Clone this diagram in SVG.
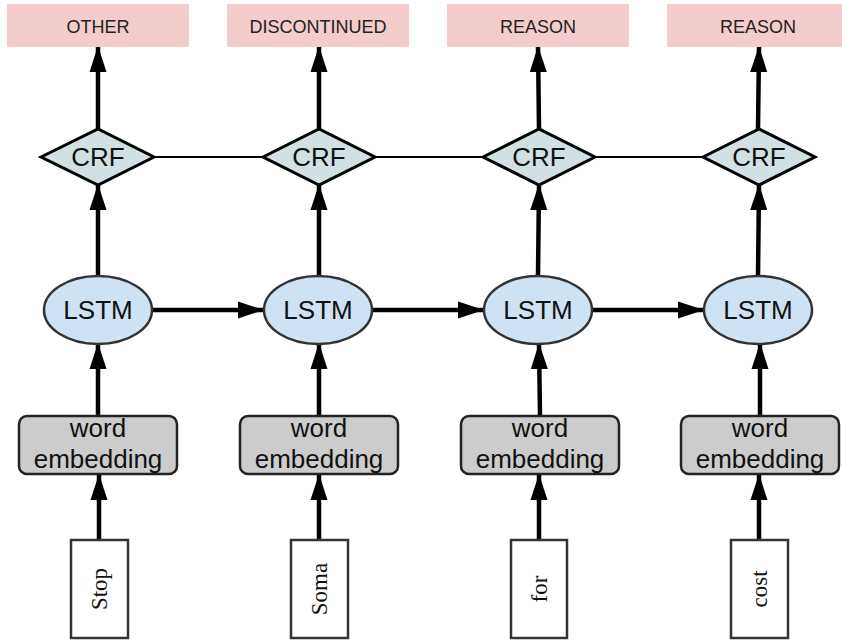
<svg xmlns="http://www.w3.org/2000/svg" width="842" height="640" viewBox="0 0 842 640">
<style>
.lbl{fill:#f4cccc}
.lt{font-family:"Liberation Sans",Arial,sans-serif;font-size:18px;fill:#222;text-anchor:middle}
.crf{fill:#d0e0e3;stroke:#000;stroke-width:3;stroke-linejoin:miter}
.lstm{fill:#cfe2f3;stroke:#333;stroke-width:2.5}
.emb{fill:#cccccc;stroke:#222;stroke-width:2.5}
.word{fill:#fff;stroke:#333;stroke-width:2.5}
.t{font-family:"Liberation Sans",Arial,sans-serif;font-size:26px;fill:#111;text-anchor:middle}
.w{font-family:"Liberation Serif","Times New Roman",serif;font-size:23px;fill:#111;text-anchor:middle}
.a{stroke:#000;stroke-width:4.5;fill:none;marker-end:url(#ah)}
.c{stroke:#000;stroke-width:2;fill:none}
</style>
<defs>
<marker id="ah" markerUnits="userSpaceOnUse" markerWidth="26" markerHeight="18" refX="25" refY="8.5" orient="auto" viewBox="0 0 26 17">
<path d="M0,0 L26,8.5 L0,17 Z" fill="#000"/>
</marker>
</defs>
<g id="connectors">
<line class="c" x1="154" y1="157" x2="263" y2="157"/>
<line class="c" x1="375" y1="157" x2="483" y2="157"/>
<line class="c" x1="595" y1="157" x2="703" y2="157"/>
<line class="a" x1="98" y1="129" x2="98" y2="47"/>
<line class="a" x1="319" y1="129" x2="319" y2="47"/>
<line class="a" x1="539" y1="129" x2="538" y2="47"/>
<line class="a" x1="758" y1="129" x2="759" y2="47"/>
<line class="a" x1="98" y1="276" x2="98" y2="185"/>
<line class="a" x1="319" y1="276" x2="319" y2="185"/>
<line class="a" x1="538" y1="276" x2="539" y2="185"/>
<line class="a" x1="758" y1="276" x2="759" y2="185"/>
<line class="a" x1="152" y1="310" x2="263" y2="310"/>
<line class="a" x1="373" y1="310" x2="483" y2="310"/>
<line class="a" x1="592" y1="310" x2="703" y2="310"/>
<line class="a" x1="98" y1="416" x2="98" y2="344"/>
<line class="a" x1="319" y1="416" x2="319" y2="344"/>
<line class="a" x1="540" y1="416" x2="539" y2="344"/>
<line class="a" x1="760" y1="416" x2="760" y2="344"/>
<line class="a" x1="99" y1="540" x2="99" y2="475"/>
<line class="a" x1="319" y1="540" x2="319" y2="475"/>
<line class="a" x1="539" y1="540" x2="539" y2="475"/>
<line class="a" x1="759" y1="540" x2="759" y2="475"/>
</g>
<g id="label1"><rect class="lbl" x="7" y="4" width="182" height="43"/><text class="lt" x="98" y="33">OTHER</text></g>
<g id="label2"><rect class="lbl" x="227" y="4" width="182" height="43"/><text class="lt" x="318" y="33">DISCONTINUED</text></g>
<g id="label3"><rect class="lbl" x="447" y="4" width="182" height="43"/><text class="lt" x="538" y="33">REASON</text></g>
<g id="label4"><rect class="lbl" x="667" y="4" width="182" height="43"/><text class="lt" x="758" y="33">REASON</text></g>
<g id="crf1"><polygon class="crf" points="41,157 98,129 154,157 98,185"/><text class="t" x="98" y="166">CRF</text></g>
<g id="crf2"><polygon class="crf" points="263,157 319,129 375,157 319,185"/><text class="t" x="319" y="166">CRF</text></g>
<g id="crf3"><polygon class="crf" points="483,157 539,129 595,157 539,185"/><text class="t" x="539" y="166">CRF</text></g>
<g id="crf4"><polygon class="crf" points="703,157 759,129 815,157 759,185"/><text class="t" x="759" y="166">CRF</text></g>
<g id="lstm1"><ellipse class="lstm" cx="98" cy="310" rx="54" ry="34"/><text class="t" x="98" y="319">LSTM</text></g>
<g id="lstm2"><ellipse class="lstm" cx="318" cy="310" rx="54" ry="34"/><text class="t" x="318" y="319">LSTM</text></g>
<g id="lstm3"><ellipse class="lstm" cx="538" cy="310" rx="54" ry="34"/><text class="t" x="538" y="319">LSTM</text></g>
<g id="lstm4"><ellipse class="lstm" cx="758" cy="310" rx="54" ry="34"/><text class="t" x="758" y="319">LSTM</text></g>
<g id="emb1"><rect class="emb" x="19" y="416" width="158" height="58" rx="8"/><text class="t" x="98" y="437">word</text><text class="t" x="98" y="468">embedding</text></g>
<g id="emb2"><rect class="emb" x="240" y="416" width="158" height="58" rx="8"/><text class="t" x="319" y="437">word</text><text class="t" x="319" y="468">embedding</text></g>
<g id="emb3"><rect class="emb" x="461" y="416" width="158" height="58" rx="8"/><text class="t" x="540" y="437">word</text><text class="t" x="540" y="468">embedding</text></g>
<g id="emb4"><rect class="emb" x="681" y="416" width="158" height="58" rx="8"/><text class="t" x="760" y="437">word</text><text class="t" x="760" y="468">embedding</text></g>
<g id="w1"><rect class="word" x="71" y="540" width="57" height="98"/><text class="w" transform="translate(107,589) rotate(-90)">Stop</text></g>
<g id="w2"><rect class="word" x="291" y="540" width="57" height="98"/><text class="w" transform="translate(327,589) rotate(-90)">Soma</text></g>
<g id="w3"><rect class="word" x="511" y="540" width="56" height="98"/><text class="w" transform="translate(547,589) rotate(-90)">for</text></g>
<g id="w4"><rect class="word" x="731" y="540" width="57" height="98"/><text class="w" transform="translate(767,589) rotate(-90)">cost</text></g>
</svg>
